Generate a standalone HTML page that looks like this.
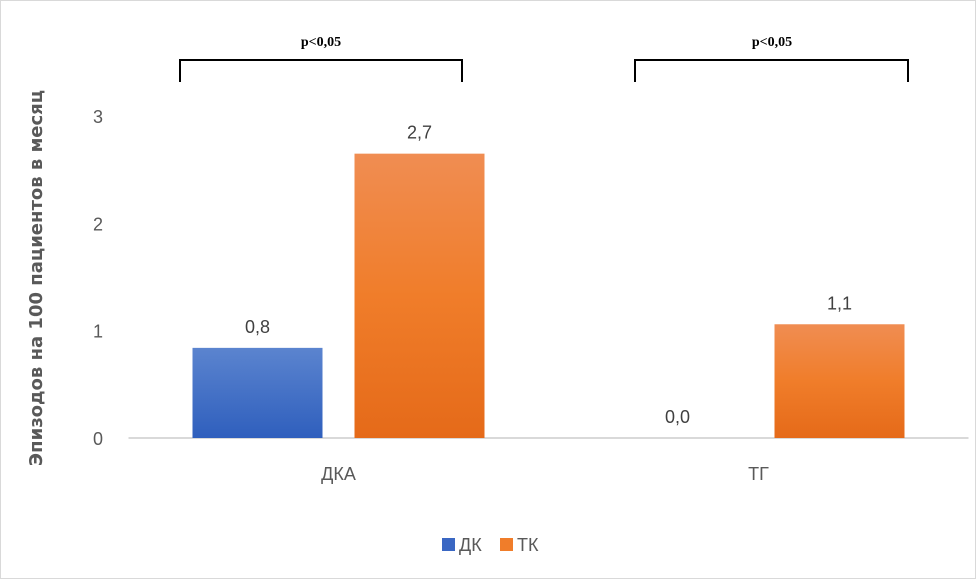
<!DOCTYPE html>
<html><head><meta charset="utf-8"><style>
html,body{margin:0;padding:0;background:#fff;}
svg{display:block;font-family:"Liberation Sans","DejaVu Sans",sans-serif;}
</style></head><body>
<svg id="chart" width="976" height="579" viewBox="0 0 976 579">
<defs>
<linearGradient id="gBlue" x1="0" y1="0" x2="0" y2="1"><stop offset="0" stop-color="#5b84cf"/><stop offset="1" stop-color="#2f5fbd"/></linearGradient>
<linearGradient id="gOrange" x1="0" y1="0" x2="0" y2="1"><stop offset="0" stop-color="#f08d52"/><stop offset="0.5" stop-color="#f07d2a"/><stop offset="1" stop-color="#e56a19"/></linearGradient>
</defs>
<rect x="0.5" y="0.5" width="975" height="578" fill="#fff" stroke="#d9d9d9"/>
<g id="grid"></g>
<g id="bars"></g>
<g id="labels"></g>
<text transform="translate(42,278) rotate(-90)" text-anchor="middle" font-size="18" font-weight="bold" fill="#595959" font-family="'DejaVu Sans',sans-serif">Эпизодов на 100 пациентов в месяц</text>
<g>
<path d="M180 82 V60 H462 V82" fill="none" stroke="#000" stroke-width="2"/>
<text x="321" y="46" text-anchor="middle" font-size="14" font-weight="bold" font-family="'Liberation Serif',serif">p&lt;0,05</text>
</g>
<g>
<path d="M635 82 V60 H908 V82" fill="none" stroke="#000" stroke-width="2"/>
<text x="772" y="46" text-anchor="middle" font-size="14" font-weight="bold" font-family="'Liberation Serif',serif">p&lt;0,05</text>
</g>
<g>
<rect x="442" y="538" width="13" height="13" fill="#3a67c3"/>
<text x="459" y="551" font-size="18" fill="#595959">ДК</text>
<rect x="500" y="538" width="13" height="13" fill="#f07d2a"/>
<text x="517" y="551" font-size="18" fill="#595959">ТК</text>
</g>
</svg>
<script>
const categories = ["ДКА", "ТГ"];
const seriesNames = ["ДК", "ТК"];
const dkValues = [0.84, 0.0];
const tkValues = [2.65, 1.06];
const dkLabels = ["0,8", "0,0"];
const tkLabels = ["2,7", "1,1"];
const yTicks = [0, 1, 2, 3];

const NS = "http://www.w3.org/2000/svg";
const plotL = 128.5, plotR = 968.5, y0 = 438, unit = 107.3;
const catW = (plotR - plotL) / categories.length;
const barW = 130, gap = 32;
function yScale(v){ return y0 - v * unit; }
function xCenter(i){ return plotL + catW * (i + 0.5); }
function mk(tag, attrs, parent){ const e = document.createElementNS(NS, tag); for (const k in attrs) e.setAttribute(k, attrs[k]); parent.appendChild(e); return e; }

const grid = document.getElementById("grid");
const barsG = document.getElementById("bars");
const labelsG = document.getElementById("labels");

const axis = mk("line", {x1: plotL, x2: plotR, y1: y0, y2: y0, stroke: "#d9d9d9", "stroke-width": 2}, grid);



yTicks.forEach(t => {
  const tx = mk("text", {x: 103, y: yScale(t) + 7, "text-anchor": "end", "font-size": 18, fill: "#595959"}, labelsG);
  tx.textContent = t;
  
  
});

categories.forEach((c, i) => {
  const cx = xCenter(i);
  const cl = mk("text", {x: cx, y: 480, "text-anchor": "middle", "font-size": 18, fill: "#595959"}, labelsG);
  cl.textContent = c;
  
  

  [[dkValues, dkLabels, "url(#gBlue)", -1, "dk"], [tkValues, tkLabels, "url(#gOrange)", 1, "tk"]].forEach(([vals, labs, fill, side, key]) => {
    const v = vals[i];
    const x = side < 0 ? cx - gap/2 - barW : cx + gap/2;
    const top = yScale(v);
    const r = mk("rect", {x: x, y: top, width: barW, height: y0 - top, fill: fill}, barsG);
    
    
    const lt = mk("text", {x: x + barW/2, y: top - 15, "text-anchor": "middle", "font-size": 18, fill: "#404040"}, labelsG);
    lt.textContent = labs[i];
    
    
  });
});
</script>
</body></html>
